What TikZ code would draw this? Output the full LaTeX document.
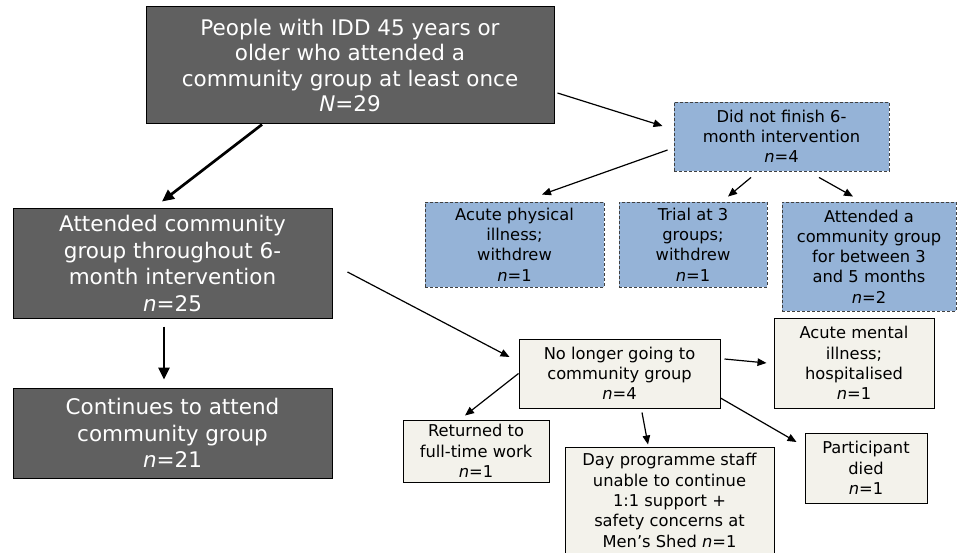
\documentclass[tikz,border=0pt]{standalone}
\usepackage{fontspec}
\setmainfont{DejaVu Sans}
\usetikzlibrary{arrows.meta}
\definecolor{darkbox}{HTML}{606060}
\definecolor{bluebox}{HTML}{95B3D7}
\definecolor{beigebox}{HTML}{F3F2EB}
\definecolor{dashline}{HTML}{404040}
\begin{document}
\begin{tikzpicture}[x=1pt,y=-1pt,
  bigbox/.style={draw=black,line width=1pt,fill=darkbox,text=white,align=center,inner sep=0pt,
    font=\fontsize{21.5}{26.7}\selectfont},
  bluenode/.style={draw=dashline,dash pattern=on 3pt off 2pt,line width=0.9pt,fill=bluebox,align=center,inner sep=0pt,
    font=\fontsize{16.3}{20.3}\selectfont},
  beigenode/.style={draw=black,line width=1pt,fill=beigebox,align=center,inner sep=0pt,
    font=\fontsize{16.3}{20.3}\selectfont},
  arr/.style={line width=1.2pt,-{Triangle[length=9pt,width=7.5pt]}},
  thickarr/.style={line width=2.7pt,-{Triangle[length=12pt,width=11pt]}}
]
\useasboundingbox (0,0) rectangle (957,553);

\node[bigbox,minimum width=408pt,minimum height=117pt,font=\fontsize{21.5}{25.5}\selectfont] (top) at (350,65.5)
  {People with IDD 45 years or\\older who attended a\\community group at least once\\\textit{N}=29};
\node[bigbox,minimum width=319pt,minimum height=109pt] (att) at (172.5,263.5)
  {Attended community\\group throughout 6-\\month intervention\\\textit{n}=25};
\node[bigbox,minimum width=319pt,minimum height=90pt] (cont) at (172.5,433)
  {Continues to attend\\community group\\\textit{n}=21};

\node[bluenode,minimum width=215pt,minimum height=69pt] (did) at (781.5,136.5)
  {Did not finish 6-\\month intervention\\\textit{n}=4};
\node[bluenode,minimum width=179pt,minimum height=85pt] (acp) at (514.5,244.5)
  {Acute physical\\illness;\\withdrew\\\textit{n}=1};
\node[bluenode,minimum width=148pt,minimum height=85pt] (trial) at (693,244.5)
  {Trial at 3\\groups;\\withdrew\\\textit{n}=1};
\node[bluenode,minimum width=174pt,minimum height=109pt] (atta) at (869,256.5)
  {Attended a\\community group\\for between 3\\and 5 months\\\textit{n}=2};

\node[beigenode,minimum width=201pt,minimum height=69pt] (nol) at (619.5,373.5)
  {No longer going to\\community group\\\textit{n}=4};
\node[beigenode,minimum width=160pt,minimum height=90pt] (acm) at (854,363)
  {Acute mental\\illness;\\hospitalised\\\textit{n}=1};
\node[beigenode,minimum width=146pt,minimum height=62pt] (ret) at (476,451)
  {Returned to\\full-time work\\\textit{n}=1};
\node[beigenode,minimum width=209pt,minimum height=107pt] (day) at (669.5,500.5)
  {Day programme staff\\unable to continue\\1:1 support +\\safety concerns at\\Men’s Shed \textit{n}=1};
\node[beigenode,minimum width=122pt,minimum height=70pt] (part) at (866,468)
  {Participant\\died\\\textit{n}=1};

% connectors
\draw[thickarr] ([xshift=-88pt]top.south) -- ([xshift=-10.5pt,yshift=7pt]att.north);
\draw[arr] ([xshift=3pt,yshift=-27.5pt]top.east) -- ([xshift=-11pt,yshift=10.5pt]did.west);
\draw[arr] ([xshift=15pt,yshift=-8.5pt]att.east) -- ([xshift=-9pt,yshift=16.5pt]nol.west);
\draw[thickarr] ([xshift=-8.5pt,yshift=-8pt]att.south) -- ([xshift=-8.5pt,yshift=8pt]cont.north);

\draw[arr] ([xshift=-6pt,yshift=-13.5pt]did.west) -- ([xshift=27.5pt,yshift=7pt]acp.north);
\draw[arr] ([xshift=-30.5pt,yshift=-6pt]did.south) -- ([xshift=35pt,yshift=5pt]trial.north);
\draw[arr] ([xshift=37.5pt,yshift=-6pt]did.south) -- ([xshift=-16pt,yshift=5pt]atta.north);

\draw[arr] (nol.west) -- ([xshift=-11pt,yshift=4pt]ret.north);
\draw[arr] ([xshift=22.5pt,yshift=-4pt]nol.south) -- ([xshift=-21.5pt,yshift=2pt]day.north);
\draw[arr] ([xshift=4pt,yshift=14.5pt]nol.east) -- ([xshift=-7pt]acm.west);
\draw[arr] ([yshift=-24.5pt]nol.east) -- ([xshift=-8pt,yshift=26pt]part.west);
\end{tikzpicture}
\end{document}
